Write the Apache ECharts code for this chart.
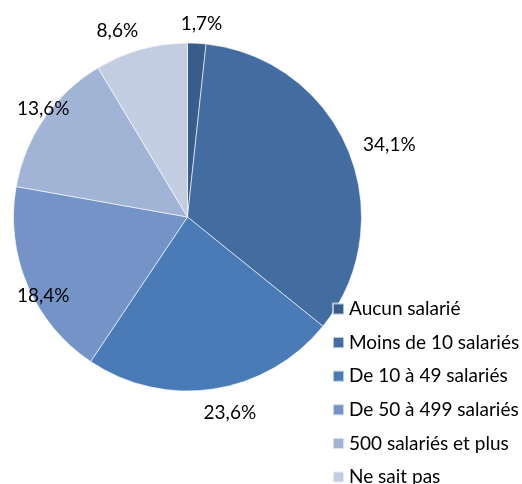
<!DOCTYPE html>
<html>
<head>
<meta charset="utf-8">
<script src="https://cdn.jsdelivr.net/npm/echarts@6/dist/echarts.min.js"></script>
<style>html,body{margin:0;padding:0;background:#fff;}#c{width:522px;height:484px;}</style>
</head>
<body>
<div id="c"></div>
<script>
const categories = ["Aucun salarié", "Moins de 10 salariés", "De 10 à 49 salariés", "De 50 à 499 salariés", "500 salariés et plus", "Ne sait pas"];
const values = [1.7, 34.1, 23.6, 18.4, 13.6, 8.6];
const colors = ["#385D8A", "#436CA1", "#4A7BB7", "#7494C7", "#A1B4D6", "#C3CDE2"];

const FONT = "Lato";
const CX = 187.5, CY = 217, R = 174, D = 190, KX = 3.5, KY = 0.64, MINX = 17, TEXT_H = 18, DY = 2.5;
const total = values.reduce((a, b) => a + b, 0);
const midAngles = [];
{ let acc = 0; values.forEach(v => { midAngles.push((acc + v / 2) / total * 2 * Math.PI); acc += v; }); }
const clamp = v => Math.max(-1, Math.min(1, v));

const chart = echarts.init(document.getElementById('c'), null, {renderer: 'canvas'});
chart.setOption({
  animation: false,
  backgroundColor: '#fff',
  legend: {
    orient: 'vertical',
    left: 327,
    top: 294,
    height: 260,
    itemWidth: 11,
    itemHeight: 11,
    itemGap: 13.6,
    icon: 'rect',
    textStyle: {fontFamily: FONT, fontSize: 19, color: '#000', lineHeight: 20},
    data: categories
  },
  series: [{
    type: 'pie',
    center: [CX, CY],
    radius: [0, R],
    startAngle: 90,
    clockwise: true,
    avoidLabelOverlap: false,
    data: categories.map((n, i) => ({name: n, value: values[i], itemStyle: {color: colors[i]}})),
    itemStyle: {borderColor: 'rgba(255,255,255,0.6)', borderWidth: 1},
    label: {
      show: true,
      position: 'outside',
      fontFamily: FONT,
      fontSize: 19,
      color: '#000',
      formatter: p => p.value.toFixed(1).replace('.', ',') + '%'
    },
    labelLine: {show: false, length: 18, length2: 0},
    labelLayout: function (params) {
      const a = midAngles[params.dataIndex];
      const s = Math.sin(a), c = Math.cos(a);
      const w = params.labelRect.width;
      let x = CX + D * s + (w / 2) * clamp(s * KX);
      const y = CY - D * c - (TEXT_H / 2) * clamp(c * KY) + DY;
      if (x - w / 2 < MINX) x = MINX + w / 2;
      return {x: x, y: y, align: 'center', verticalAlign: 'middle'};
    },
    emphasis: {disabled: true}
  }]
});
</script>
</body>
</html>
